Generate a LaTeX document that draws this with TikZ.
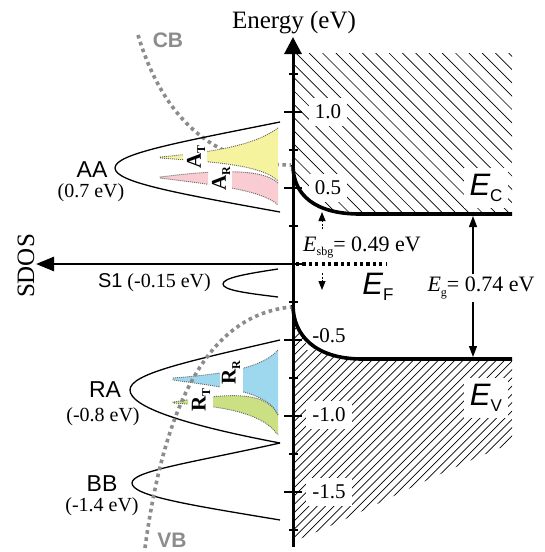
\documentclass[tikz,border=0pt]{standalone}
\usepackage{fontspec}
\setmainfont{Liberation Serif}
\setsansfont{Liberation Sans}
\usetikzlibrary{arrows.meta}
\definecolor{ylobe}{RGB}{246,243,158}
\definecolor{plobe}{RGB}{248,204,208}
\definecolor{blobe}{RGB}{158,216,238}
\definecolor{globe}{RGB}{202,224,130}
\definecolor{cbgray}{RGB}{140,140,140}
\newcommand\mysub[1]{\raisebox{-0.45ex}{\fontsize{12}{12}\selectfont #1}}
\newcommand\mysubsf[1]{\raisebox{-0.35ex}{\fontsize{17}{17}\selectfont\sffamily\upshape #1}}
\begin{document}
\begin{tikzpicture}[x=1pt,y=-1pt,
  hatchline/.style={line width=0.7pt},
  bandedge/.style={line width=3.6pt},
  bandcurve/.style={draw=cbgray, line width=3.6pt, dash pattern=on 3.6pt off 3.6pt},
  lobeedge/.style={draw=black!60, line width=0.9pt, dash pattern=on 1pt off 1pt},
  peak/.style={line width=1.3pt},
  ticklbl/.style={fill=white, inner xsep=6pt, inner ysep=7pt, font=\fontsize{21}{21}\selectfont},
  sdlbl/.style={inner sep=0pt, font=\fontsize{23}{23}\selectfont\sffamily},
  evlbl/.style={inner sep=0pt, font=\fontsize{20}{20}\selectfont},
  bandlbl/.style={inner sep=0pt, text=cbgray, font=\fontsize{21}{21}\selectfont\sffamily\bfseries},
  lobelbl/.style={inner sep=0pt, rotate=90, font=\fontsize{21}{21}\selectfont\bfseries},
  elbl/.style={fill=white, inner xsep=6pt, inner ysep=6pt, font=\fontsize{31}{31}\selectfont\sffamily\itshape},
  axis/.style={line width=3pt},
]
\useasboundingbox (0,0) rectangle (545,552);

% hatching, conduction side
\begin{scope}
\clip (293,53) -- (512,53) -- (512,214) -- (360,214) .. controls (315,214) and (293,195) .. (293,165) -- cycle;
\foreach \i in {0,...,31} \draw[hatchline] ({123+13.3*\i},53) -- ++(175,175);
\end{scope}
% hatching, valence side
\begin{scope}
\clip (293,305) .. controls (293,335) and (315,359) .. (362,359) -- (512,359) -- (512,443) .. controls (420,480) and (350,520) .. (294,541) -- (293,541) -- cycle;
\foreach \i in {0,...,58} \draw[hatchline] ({45+8.3*\i},546) -- ++(250,-250);
\end{scope}

% CB / VB dotted curves
\coordinate (cbtop) at (138,35);
\coordinate (cbend) at (291,165);
\coordinate (vbbot) at (145,548);
\coordinate (vbend) at (291,307);
\draw[bandcurve] (cbtop) .. controls (165,125) and (220,165) .. (cbend);

% peaks
\draw[peak] (280,122) .. controls (175,143) and (115,154) .. (115,168) .. controls (115,182) and (175,193) .. (280,212);
\draw[peak] (278,269) .. controls (245,274) and (223,278) .. (223,284) .. controls (223,290) and (245,293) .. (278,297);
\draw[peak] (280,340) .. controls (185,362) and (130,374) .. (130,390) .. controls (130,407) and (185,425) .. (280,443);
\draw[peak] (280,443) .. controls (190,463) and (132,471) .. (132,483) .. controls (132,496) and (190,505) .. (280,520);

% lobes AA
\begin{scope}
\clip (150,100) rectangle (183,230) (207,100) rectangle (290,230);
\fill[ylobe] (160,157) .. controls (215,152) and (255,145) .. (278,128) -- (278,181) .. controls (262,165) and (215,162) .. (160,158) -- cycle;
\draw[lobeedge] (278,128) .. controls (255,145) and (215,152) .. (160,157) -- (160,158) .. controls (215,162) and (262,165) .. (278,181);
\end{scope}
\begin{scope}
\clip (150,100) rectangle (208,230) (232,100) rectangle (290,230);
\fill[plobe] (160,177) .. controls (215,170) and (262,168) .. (278,183) -- (278,205) .. controls (262,190) and (215,185) .. (160,178) -- cycle;
\draw[lobeedge] (278,183) .. controls (262,168) and (215,170) .. (160,177) -- (160,178) .. controls (215,185) and (262,190) .. (278,205);
\end{scope}
% lobes RA
\begin{scope}
\clip (160,330) rectangle (220,450) (243,330) rectangle (290,450);
\fill[blobe] (173,378) .. controls (225,374) and (262,368) .. (278,350) -- (278,415) .. controls (268,392) and (230,388) .. (173,380) -- cycle;
\draw[lobeedge] (278,350) .. controls (262,368) and (225,374) .. (173,378) -- (173,380) .. controls (230,388) and (268,392) .. (278,415);
\end{scope}
\begin{scope}
\clip (160,330) rectangle (188,450) (213,330) rectangle (290,450);
\fill[globe] (173,402) .. controls (220,395) and (265,388) .. (278,415) -- (278,435) .. controls (262,412) and (220,406) .. (173,403) -- cycle;
\draw[lobeedge] (278,415) .. controls (265,388) and (220,395) .. (173,402) -- (173,403) .. controls (220,406) and (262,412) .. (278,435);
\end{scope}
\draw[bandcurve] (vbbot) .. controls (165,400) and (210,315) .. (vbend);

\node[lobelbl] (at) at (196,157) {A\mysub{T}};
\node[lobelbl] (ar) at (221,179) {A\mysub{R}};
\node[lobelbl] (rr) at (231,373) {R\mysub{R}};
\node[lobelbl] (rt) at (201,400) {R\mysub{T}};

% peak labels
\node[sdlbl] (aa) at (92,170) {AA};
\node[evlbl] (aae) at (91,193) {(0.7 eV)};
\node[inner sep=0pt, anchor=east, font=\fontsize{20}{20}\selectfont] (s1) at (211,283) {\textsf{S1} (-0.15 eV)};
\node[sdlbl] (ra) at (105,390) {RA};
\node[evlbl] (rae) at (103,417) {(-0.8 eV)};
\node[sdlbl] (bb) at (102,484) {BB};
\node[evlbl] (bbe) at (102,507) {(-1.4 eV)};
\node[bandlbl] (cb) at (168,40) {CB};
\node[bandlbl] (vb) at (172,540) {VB};

% tick labels
\node[ticklbl] (t10) at (328,112) {1.0};
\node[ticklbl] (t05) at (328,188) {0.5};
\node[ticklbl] (tm05) at (329,336) {-0.5};
\node[ticklbl] (tm10) at (329,415) {-1.0};
\node[ticklbl] (tm15) at (329,492) {-1.5};

% band edges
\coordinate (ecstart) at (293,165);
\coordinate (ecbend) at (360,214);
\coordinate (ecend) at (512,214);
\coordinate (evstart) at (293,305);
\coordinate (evbend) at (362,359);
\coordinate (evend) at (512,359);
\draw[bandedge] (ecstart) .. controls (293,195) and (315,214) .. (ecbend) -- (ecend);
\draw[bandedge] (evstart) .. controls (293,335) and (315,359) .. (evbend) -- (evend);

\node[elbl] (ec) at (486,188) {E\mysubsf{C}};
\node[elbl] (ev) at (486,398) {E\mysubsf{V}};

% Fermi level
\coordinate (efa) at (296,264);
\coordinate (efb) at (386,264);
\draw[line width=3.2pt, dash pattern=on 3.2pt off 3.2pt] (efa) -- (efb);
\node[inner sep=0pt, font=\fontsize{31}{31}\selectfont\sffamily\itshape] (ef) at (378,287) {E\mysubsf{F}};

% E_sbg arrows
\coordinate (sbu1) at (322,229);
\coordinate (sbu2) at (322,212);
\coordinate (sbd1) at (322,273);
\coordinate (sbd2) at (322,290);
\draw[line width=1pt, dash pattern=on 2pt off 1.5pt, -{Triangle[length=9pt,width=7pt]}] (sbu1) -- (sbu2);
\draw[line width=1pt, dash pattern=on 2pt off 1.5pt, -{Triangle[length=9pt,width=7pt]}] (sbd1) -- (sbd2);
\node[inner sep=0pt, anchor=base west, font=\fontsize{22}{22}\selectfont] (esbg) at (303,251) {\textit{E}\mysub{sbg}= 0.49 eV};

% E_g arrow
\coordinate (ega) at (473,216);
\coordinate (egb) at (473,357);
\draw[line width=1.2pt, {Triangle[length=11pt,width=8pt]}-{Triangle[length=11pt,width=8pt]}] (ega) -- (egb);
\node[fill=white, inner xsep=2pt, inner ysep=3pt, font=\fontsize{22}{22}\selectfont] (eg) at (481,288) {\textit{E}\mysub{g}= 0.74 eV};

% axes
\coordinate (axbot) at (293,547);
\coordinate (axtop) at (293,37);
\coordinate (sdosr) at (293,264);
\coordinate (sdosl) at (36,264);
\draw[axis, -{Triangle[length=17pt,width=17pt]}] (axbot) -- (axtop);
\draw[line width=2.6pt, -{Triangle[length=18pt,width=14pt]}] (sdosr) -- (sdosl);
\foreach \e in {1.0,0.5,0,-0.5,-1.0,-1.5} \draw[line width=1.4pt] (284,{264-152*\e}) -- (302,{264-152*\e});
\foreach \e in {1.25,0.75,0.25,-0.25,-0.75,-1.25,-1.75} \draw[line width=1.4pt] (289,{264-152*\e}) -- (298,{264-152*\e});

\node[inner sep=0pt, anchor=base, font=\fontsize{25}{25}\selectfont] (energy) at (294,28) {Energy (eV)};
\node[inner sep=0pt, rotate=90, font=\fontsize{25}{25}\selectfont] (sdos) at (26,266) {SDOS};
\end{tikzpicture}
\end{document}
